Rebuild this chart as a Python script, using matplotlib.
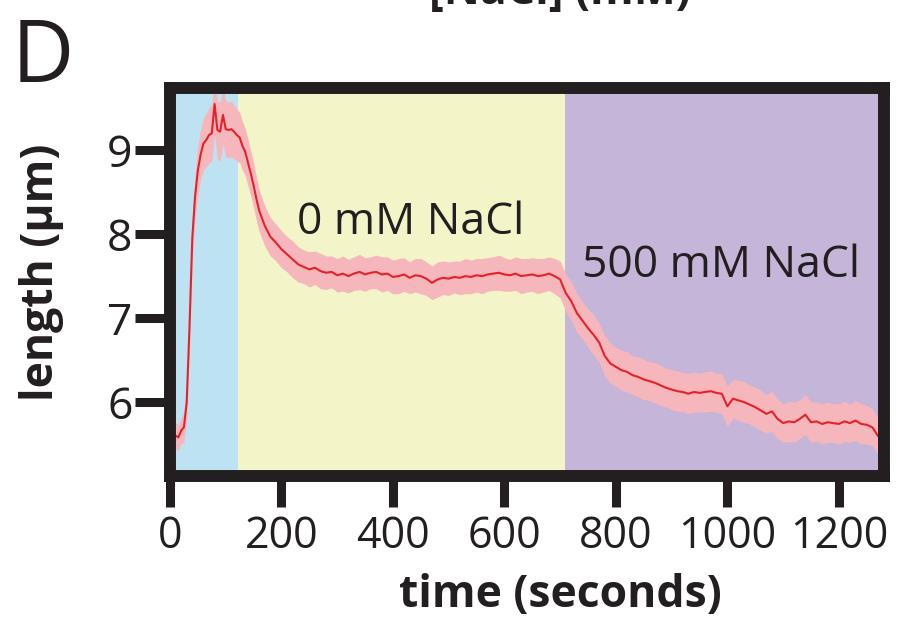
import numpy as np
import matplotlib
matplotlib.use("Agg")
import matplotlib.pyplot as plt

plt.rcParams['font.family'] = ['Open Sans', 'DejaVu Sans']

# cell length trace: 5 s steps through the swelling peak, 10 s afterwards
time_s = list(range(0, 160, 5)) + list(range(160, 1271, 10))
length_um = [
    # 0 - 155 s
    5.62, 5.55, 5.60, 5.58, 5.66, 5.70, 6.00, 6.90, 7.95, 8.45,
    8.76, 8.95, 9.08, 9.12, 9.18, 9.20, 9.55, 9.24, 9.22, 9.42,
    9.25, 9.24, 9.25, 9.22, 9.18, 9.15, 9.05, 8.98, 8.85, 8.72,
    8.58, 8.42,
    # 160 s onward
    8.28, 8.10, 7.97, 7.90, 7.82, 7.76, 7.70, 7.64, 7.61, 7.58,
    7.60, 7.56, 7.54, 7.55, 7.51, 7.53, 7.50, 7.53, 7.55, 7.52,
    7.54, 7.55, 7.52, 7.53, 7.49, 7.50, 7.52, 7.48, 7.51, 7.50,
    7.47, 7.42, 7.46, 7.48, 7.47, 7.49, 7.48, 7.50, 7.49, 7.51,
    7.50, 7.52, 7.53, 7.54, 7.52, 7.51, 7.53, 7.50, 7.51, 7.52,
    7.50, 7.51, 7.53, 7.50, 7.46, 7.30, 7.20, 7.06, 6.97, 6.88,
    6.80, 6.71, 6.55, 6.46, 6.42, 6.38, 6.36, 6.32, 6.30, 6.27,
    6.25, 6.23, 6.20, 6.17, 6.15, 6.13, 6.12, 6.10, 6.12, 6.11,
    6.12, 6.13, 6.11, 6.10, 5.95, 6.04, 6.02, 6.00, 5.97, 5.94,
    5.90, 5.86, 5.89, 5.80, 5.75, 5.77, 5.76, 5.80, 5.85, 5.76,
    5.77, 5.74, 5.76, 5.75, 5.74, 5.77, 5.75, 5.78, 5.74, 5.73,
    5.70, 5.60,
]
length_err = [
    # 0 - 155 s
    0.15, 0.16, 0.15, 0.16, 0.15, 0.18, 0.22, 0.25, 0.26, 0.28,
    0.30, 0.30, 0.31, 0.32, 0.33, 0.34, 0.36, 0.35, 0.35, 0.34,
    0.34, 0.33, 0.33, 0.32, 0.31, 0.30, 0.29, 0.28, 0.28, 0.27,
    0.27, 0.26,
    # 160 s onward
    0.25, 0.24, 0.23, 0.22, 0.22, 0.21, 0.22, 0.21, 0.20, 0.21,
    0.20, 0.21, 0.20, 0.19, 0.20, 0.21, 0.20, 0.20, 0.21, 0.20,
    0.19, 0.20, 0.21, 0.20, 0.20, 0.21, 0.20, 0.19, 0.20, 0.21,
    0.20, 0.20, 0.21, 0.20, 0.20, 0.19, 0.20, 0.21, 0.20, 0.20,
    0.21, 0.20, 0.20, 0.21, 0.20, 0.19, 0.20, 0.21, 0.20, 0.20,
    0.21, 0.20, 0.20, 0.21, 0.22, 0.22, 0.23, 0.23, 0.22, 0.23,
    0.24, 0.23, 0.24, 0.24, 0.23, 0.24, 0.24, 0.23, 0.24, 0.24,
    0.23, 0.24, 0.24, 0.23, 0.24, 0.24, 0.23, 0.24, 0.24, 0.23,
    0.24, 0.24, 0.23, 0.24, 0.24, 0.23, 0.24, 0.24, 0.23, 0.24,
    0.24, 0.23, 0.24, 0.24, 0.23, 0.24, 0.24, 0.23, 0.24, 0.24,
    0.23, 0.24, 0.24, 0.23, 0.24, 0.24, 0.23, 0.24, 0.24, 0.23,
    0.22, 0.22,
]

# buffer phases (start, end, colour)
phase_edges = [0, 122, 709, 1281]
phase_colors = ['#bde3f3', '#f3f5c9', '#c4b5d9']
phase_labels = ['', '0 mM NaCl', '500 mM NaCl']

fig = plt.figure(figsize=(9.11, 6.2), dpi=100)
ax = fig.add_axes([170/911, 1-476/620, 714/911, 388/620])

for i in range(len(phase_colors)):
    ax.axvspan(phase_edges[i], phase_edges[i+1], color=phase_colors[i], lw=0, zorder=0)

t = np.array(time_s)
y = np.array(length_um)
e = np.array(length_err)
ax.fill_between(t, y - e, y + e, color='#f5b7bc', lw=0, zorder=1)
ax.plot(t, y, color='#e8202a', lw=1.5, zorder=2)

ax.text(228, 8.0, phase_labels[1], fontsize=32, color='#231f20', va='baseline', ha='left')
ax.text(739, 7.49, phase_labels[2], fontsize=32, color='#231f20', va='baseline', ha='left')

ax.set_xlim(0, 1281)
ax.set_ylim(5.12, 9.74)
ax.set_xticks([0, 200, 400, 600, 800, 1000, 1200])
ax.set_yticks([6, 7, 8, 9])

for s in ax.spines.values():
    s.set_linewidth(8.6)
    s.set_color('#231f20')

ax.tick_params(axis='y', direction='out', length=25, width=6.5, color='#231f20',
               labelsize=32, pad=2, labelcolor='#231f20')
ax.tick_params(axis='x', direction='out', length=22, width=6.5, color='#231f20',
               labelsize=31, pad=6, labelcolor='#231f20')

fig.text(42/911, 1-272/620, 'length (µm)', rotation=90, ha='center', va='center',
         fontsize=32, fontweight='bold', color='#231f20')
fig.text(560/911, 1-607/620, 'time (seconds)', ha='center', va='baseline',
         fontsize=32, fontweight='bold', color='#231f20')
fig.text(12/911, 1-82/620, 'D', ha='left', va='baseline', fontsize=62, color='#231f20')
fig.text(560/911, 1-4/620, '[NaCl] (mM)', ha='center', va='baseline', fontsize=32,
         fontweight='bold', color='#231f20')

fig.savefig('out.png', dpi=100)
